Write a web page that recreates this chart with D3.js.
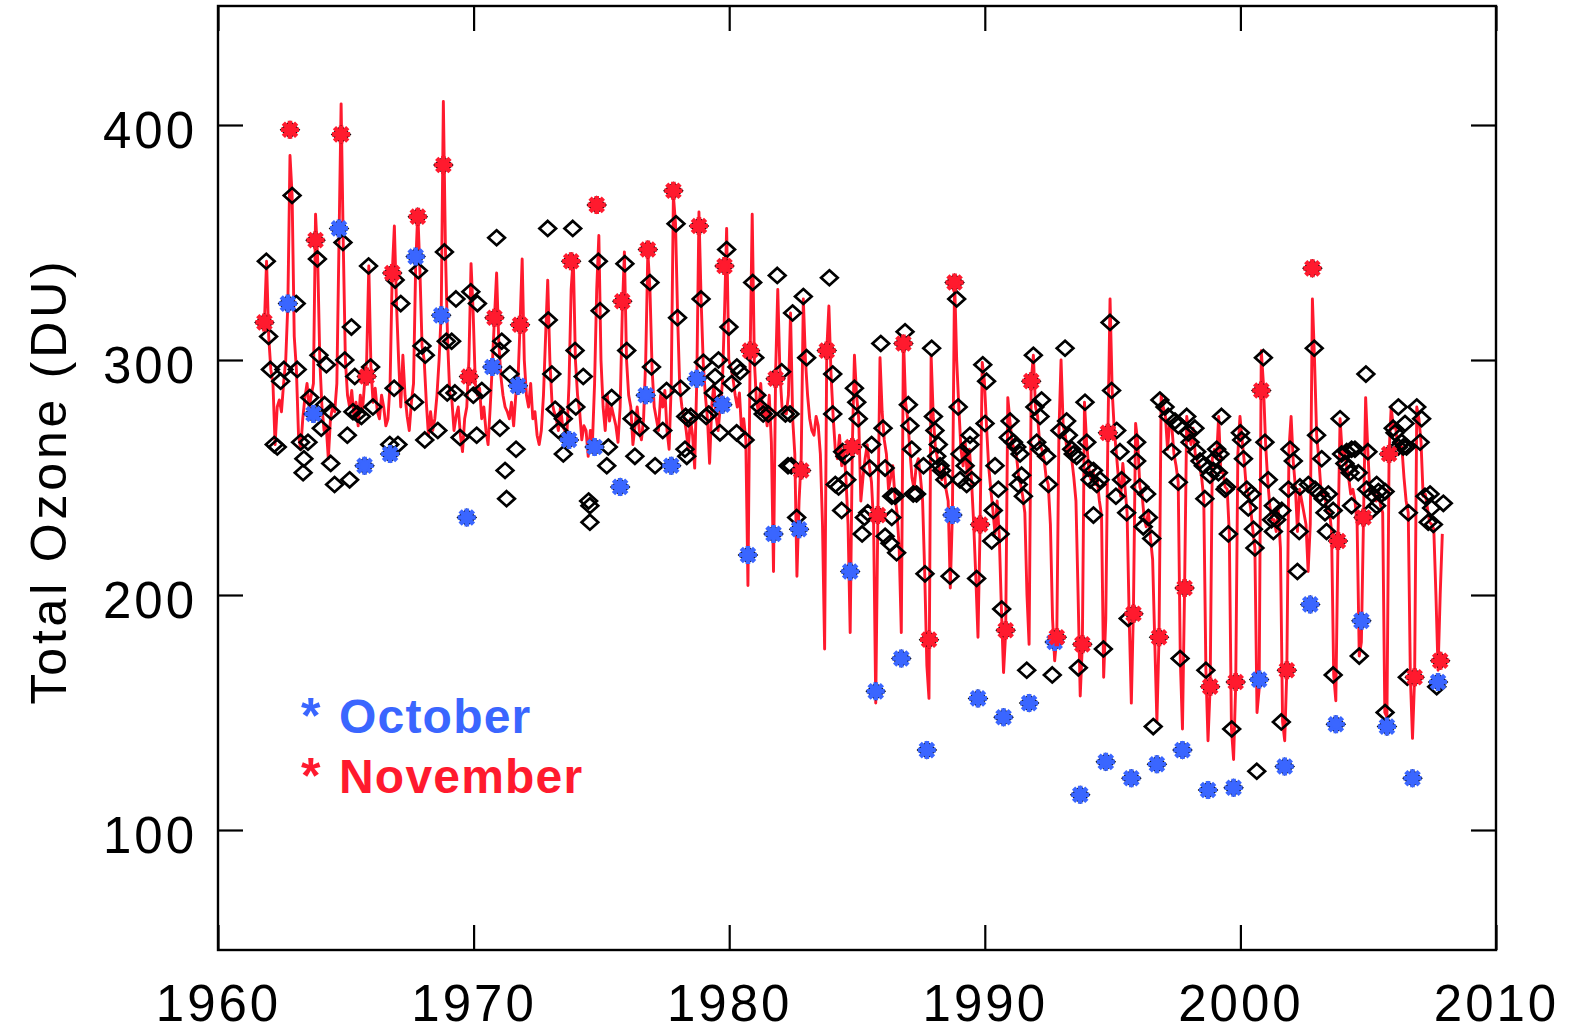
<!DOCTYPE html>
<html><head><meta charset="utf-8">
<script src="https://cdn.jsdelivr.net/npm/d3@7"></script>
<style>body{margin:0;background:#fff}svg{display:block}</style>
</head><body>
<svg id="c" width="1570" height="1032"></svg>
<script>
// ---------- data ----------
const xTicks = [1960, 1970, 1980, 1990, 2000, 2010];
const yTicks = [100, 200, 300, 400];
const yTitle = "Total Ozone (DU)";
const legendLabels = ["October", "November"];

// monthly line (Jan..Dec) per year
const lineYears = d3.range(1961, 2008);
const lineValues = [
[null,null,null,null,null,null,null,null,null,null,316,342],
[310,296,290,264,280,283,278,290,300,324,387,370],
[310,296,268,262,275,284,290,280,285,290,362,343],
[300,280,270,272,258,275,280,278,290,350,409,350],
[300,285,280,287,276,282,272,285,278,290,300,340],
[297,282,288,278,275,285,280,272,275,290,337,357],
[324,300,280,302,285,276,270,282,290,340,363,338],
[306,300,282,268,278,270,275,285,300,320,410,346],
[308,286,283,270,276,280,268,261,275,280,300,341],
[320,290,285,288,275,280,270,264,280,298,318,337],
[308,293,285,280,278,275,282,272,285,290,315,343],
[300,285,280,290,275,278,268,264,270,285,310,334],
[300,282,278,275,270,280,272,270,268,290,330,344],
[300,285,278,266,272,270,259,270,265,290,330,353],
[300,280,270,285,274,280,276,272,265,280,320,346],
[300,285,280,264,272,280,270,266,275,300,346,330],
[296,280,275,270,285,280,287,270,262,290,370,358],
[318,288,280,276,270,262,275,268,254,292,363,326],
[299,285,275,256,280,290,276,270,280,290,320,356],
[300,297,292,285,280,286,270,275,266,204,300,362],
[300,282,278,290,276,280,272,285,265,210,295,330],
[295,280,278,277,285,320,275,260,208,240,258,326],
[300,285,275,270,268,276,272,260,230,177,304,323],
[294,276,262,258,268,255,262,250,230,184,263,302],
[285,275,240,250,258,264,255,248,230,154,234,301],
[278,266,260,245,250,255,242,235,220,184,310,282],
[275,262,250,245,255,258,250,240,209,170,156,302],
[276,263,258,253,249,255,245,240,203,235,335,300],
[280,262,255,265,250,262,248,230,207,182,230,299],
[291,272,255,245,236,226,240,225,194,167,184,284],
[274,265,262,260,251,247,242,235,200,179,291,302],
[280,276,264,262,258,250,247,230,190,172,182,269],
[300,272,268,260,265,258,250,240,200,157,179,282],
[265,254,249,253,247,249,240,234,165,190,269,326],
[287,270,260,249,242,256,246,235,190,154,195,273],
[265,246,243,233,229,236,224,215,180,146,182,285],
[280,276,262,274,272,260,255,248,172,143,203,276],
[269,264,271,260,257,255,250,241,168,138,161,258],
[262,258,276,252,253,246,245,226,143,130,162,260],
[276,266,257,245,243,237,228,220,150,160,304,290],
[265,249,238,232,232,227,236,220,146,138,168,262],
[276,257,246,227,245,240,235,230,210,230,326,300],
[268,258,245,243,241,235,236,227,166,155,223,275],
[260,262,255,250,243,245,240,230,174,180,233,284],
[262,243,245,243,240,244,238,235,150,148,260,280],
[271,273,262,264,263,250,240,235,165,139,165,280],
[275,265,242,243,237,231,230,228,200,168,200,226]
];

// individual monthly values (diamonds): [decimal year, DU]
const diamonds = [
[1961.89,342],[1961.98,310],[1962.05,296],[1962.2,264],[1962.32,263],[1962.45,291],[1962.58,296],[1962.9,370],
[1963.06,324],[1963.1,296],[1963.23,265],[1963.36,258],[1963.33,252],[1963.52,265],[1963.59,284],[1963.89,343],
[1963.95,302],[1964.24,298],[1964.04,271],[1964.17,281],[1964.43,278],[1964.41,256],[1964.56,247],[1964.89,350],
[1964.96,300],[1965.22,314],[1965.15,249],[1965.06,268],[1965.35,293],[1965.28,278],[1965.61,276],[1965.45,277],
[1965.89,340],[1965.97,297],[1966.06,280],[1966.72,264],[1966.89,288],[1966.93,334],[1967.15,324],[1967.04,264],
[1967.69,282],[1967.84,338],[1967.98,306],[1968.11,302],[1968.09,266],[1968.6,270],[1968.86,346],[1968.93,308],
[1968.97,286],[1969.14,308],[1969.31,326],[1969.89,329],[1970.15,324],[1970.9,352],[1971.1,308],[1971.03,304],
[1969.27,286],[1969.47,267],[1969.99,285],[1970.12,268],[1970.32,287],[1971.03,271],[1971.42,294],[1971.66,262],
[1971.23,253],[1971.29,241],[1972.9,356],[1972.92,317],[1973.06,294],[1973.19,279],[1973.51,275],[1973.32,270],
[1973.51,260],[1973.88,356],[1973.97,304],[1974.0,280],[1974.29,293],[1974.88,342],[1974.95,321],[1975.27,263],
[1975.21,255],[1974.5,240],[1974.55,238],[1974.55,231],[1975.4,284],[1975.92,341],[1975.99,304],[1976.31,259],
[1976.2,275],[1976.5,271],[1976.9,333],[1976.96,297],[1977.1,255],[1977.4,270],[1977.55,287],[1977.92,358],
[1977.98,318],[1978.1,288],[1978.27,262],[1978.34,259],[1978.3,276],[1978.4,275],[1978.5,276],[1978.9,326],
[1978.99,299],[1979.58,300],[1979.45,293],[1979.38,286],[1979.2,277],[1979.1,276],[1979.64,269],[1980.29,269],
[1980.62,266],[1979.9,347],[1979.99,314],[1980.1,290],[1980.3,297],[1980.43,295],[1980.92,333],[1981.0,301],
[1981.08,285],[1981.2,280],[1981.33,277],[1981.53,277],[1981.88,336],[1982.05,295],[1982.2,277],[1982.38,277],
[1982.48,320],[1982.9,327],[1983.03,301],[1982.64,233],[1982.3,255],[1982.43,255],[1983.92,335],[1984.05,294],
[1984.05,277],[1984.44,261],[1984.53,259],[1984.6,249],[1984.4,236],[1984.28,246],[1984.15,247],[1984.9,288],
[1984.99,282],[1985.05,275],[1985.2,226],[1985.29,233],[1985.42,235],[1985.5,254],[1985.93,307],[1985.57,264],
[1986.02,271],[1986.1,254],[1986.36,233],[1986.36,242],[1986.49,242],[1986.1,225],[1986.29,222],[1986.55,218],
[1986.88,312],[1987.01,281],[1987.07,272],[1987.14,262],[1987.2,243],[1987.33,243],[1987.6,255],[1987.66,209],
[1987.92,305],[1987.99,276],[1988.05,270],[1988.18,264],[1988.12,259],[1988.25,255],[1988.31,253],[1988.44,249],
[1988.64,208],[1988.9,326],[1988.96,280],[1989.03,260],[1989.23,255],[1989.42,268],[1989.42,264],[1989.49,249],
[1989.29,247],[1989.03,249],[1989.68,207],[1989.92,298],[1990.07,291],[1990.01,273],[1990.4,255],[1990.53,245],
[1990.33,236],[1990.27,223],[1990.6,226],[1990.66,194],[1990.99,274],[1990.92,267],[1991.12,265],[1991.25,263],
[1991.38,260],[1991.44,251],[1991.51,242],[1991.31,247],[1991.64,168],[1991.9,302],[1991.96,280],[1992.22,283],
[1992.16,276],[1992.03,265],[1992.16,262],[1992.42,259],[1992.49,247],[1992.64,166],[1993.14,305],[1993.2,274],
[1992.94,270],[1993.46,260],[1993.27,268],[1993.59,259],[1993.4,262],[1993.66,169],[1993.92,282],[1993.99,265],
[1994.05,254],[1994.12,249],[1994.25,253],[1994.38,247],[1994.51,249],[1994.25,234],[1994.64,177],[1994.9,316],
[1994.96,287],[1995.16,270],[1995.29,261],[1995.35,249],[1995.13,242],[1995.55,235],[1995.94,257],[1995.94,265],
[1996.07,246],[1996.33,243],[1996.2,229],[1996.4,233],[1996.53,224],[1995.61,190],[1996.59,144],[1996.85,283],
[1997.05,280],[1997.18,276],[1997.44,274],[1997.57,272],[1997.31,261],[1997.57,248],[1997.9,276],[1997.96,269],
[1998.03,265],[1998.22,271],[1998.29,261],[1998.42,257],[1998.55,255],[1998.81,251],[1997.64,173],[1998.61,241],
[1998.65,168],[1999.26,276],[1999.07,262],[1999.2,260],[1999.0,258],[1999.14,252],[1998.94,253],[1999.46,246],
[1999.53,226],[1999.4,245],[1999.66,143],[2000.0,269],[2000.05,266],[2000.12,258],[2000.25,245],[2000.44,243],
[2000.31,237],[2000.57,220],[2000.51,228],[2000.64,125],[2000.9,301],[2000.96,265],[2001.09,249],[2001.29,238],
[2001.22,232],[2001.42,232],[2001.29,227],[2001.62,236],[2001.6,146],[2001.94,262],[2002.07,257],[2001.88,245],
[2002.23,210],[2002.3,227],[2002.33,246],[2002.89,305],[2002.98,268],[2003.18,258],[2002.66,247],[2002.92,245],
[2003.11,243],[2003.24,241],[2003.44,243],[2003.31,235],[2003.37,227],[2003.63,236],[2003.63,166],[2003.9,275],
[2003.96,260],[2004.16,261],[2004.35,262],[2004.48,262],[2004.09,256],[2004.22,254],[2004.29,252],[2004.61,252],
[2004.35,238],[2004.99,261],[2004.94,245],[2005.14,243],[2005.33,247],[2005.4,244],[2005.53,243],[2005.66,244],
[2005.14,236],[2005.33,238],[2004.91,294],[2004.65,174],[2005.66,150],[2006.18,280],[2005.98,271],[2006.05,269],
[2006.44,273],[2006.37,263],[2006.5,263],[2006.31,265],[2006.18,263],[2006.57,235],[2006.9,280],[2007.09,275],
[2007.03,265],[2007.22,242],[2007.42,243],[2007.35,231],[2007.55,230],[2007.94,239],[2007.48,237],[2007.68,161],
[2006.53,165]
];

const octYears  = [1962,1963,1964,1965,1966,1967,1968,1969,1970,1971,1973,1974,1975,1976,1977,1978,1979,1980,1981,1982,1984,1985,1986,1987,1988,1989,1990,1991,1992,1993,1994,1995,1996,1997,1998,1999,2000,2001,2002,2003,2004,2005,2006,2007];
const octValues = [324,277,356,255,260,344,319,233,297,289,266,263,246,285,255,292,281,217,226,228,210,159,173,134,234,156,148,154,180,115,129,122,128,134,117,118,164,127,196,145,189,144,122,163];
const novYears  = [1961,1962,1963,1964,1965,1966,1967,1968,1969,1970,1971,1973,1974,1975,1976,1977,1978,1979,1980,1981,1982,1983,1984,1985,1986,1987,1988,1989,1990,1991,1992,1993,1994,1995,1996,1997,1998,1999,2000,2001,2002,2003,2004,2005,2006,2007];
const novValues = [316,398,351,396,293,337,361,383,293,318,315,342,366,325,347,372,357,340,304,292,253,304,263,234,307,181,333,230,185,291,182,179,269,192,182,203,161,163,287,168,339,223,233,260,165,172];

// ---------- styles ----------
const BLUE = "#3a66ff", RED = "#ff1a2e";
const FONT = "'Liberation Sans', Arial, Helvetica, sans-serif";
const L = 218, R = 1496, T = 6, B = 950;
const monthTime = (yr, m) => yr + (m - 0.2) / 12;

const svg = d3.select("#c");
const x = d3.scaleLinear().domain([1960, 2010]).range([L, R]);
const y = d3.scaleLinear().domain([100, 400]).range([830, 125]);

svg.append("clipPath").attr("id","clip").append("rect").attr("x",L).attr("y",T).attr("width",R-L).attr("height",B-T);
const plot = svg.append("g").attr("clip-path","url(#clip)");

// line
const linePts = lineYears.flatMap((yr, i) => lineValues[i].map((v, m) => ({t: monthTime(yr, m), v})))
  .filter(d => d.v != null);
plot.append("path").datum(linePts)
  .attr("d", d3.line().x(d => x(d.t)).y(d => y(d.v)))
  .attr("fill","none").attr("stroke",RED).attr("stroke-width",2.9).attr("stroke-linejoin","round");

// diamonds (all months, including Oct/Nov under the asterisks)
const octPts = octYears.map((yr, i) => [monthTime(yr, 9), octValues[i]]);
const novPts = novYears.map((yr, i) => [monthTime(yr, 10), novValues[i]]);
const dia = "M0,-7.5L8.3,0L0,7.5L-8.3,0Z";
plot.selectAll("path.dia").data(diamonds.concat(octPts, novPts)).join("path").attr("class","dia")
  .attr("d", dia).attr("transform", d => `translate(${x(d[0])},${y(d[1])})`)
  .attr("fill","none").attr("stroke","#000").attr("stroke-width",2.7);

// asterisks
const r = 9, k = r * 0.74;
const star = `M${-r},0L${r},0M0,${-r}L0,${r}M${-k},${-k}L${k},${k}M${-k},${k}L${k},${-k}`;
function stars(data, color) {
  const g = plot.append("g");
  g.selectAll("path.s").data(data).join("path")
    .attr("d", star).attr("transform", d => `translate(${x(d[0])},${y(d[1])})`)
    .attr("stroke", color).attr("stroke-width", 4.6).attr("fill","none");
  g.selectAll("circle").data(data).join("circle")
    .attr("cx", d => x(d[0])).attr("cy", d => y(d[1])).attr("r", 4.5).attr("fill", color);
}
stars(octPts, BLUE);
stars(novPts, RED);

// axes
const axStyle = g => { g.select(".domain").remove(); g.selectAll(".tick line").attr("stroke","#000").attr("stroke-width",2.2);
  g.selectAll("text").attr("font-family",FONT).attr("font-size",51).attr("fill","#000").style("letter-spacing","3px"); };
svg.append("g").attr("transform",`translate(0,${B})`)
  .call(d3.axisBottom(x).tickValues(xTicks).tickSize(-25).tickPadding(35).tickFormat(d3.format("d"))).call(axStyle);
svg.append("g").attr("transform",`translate(0,${T})`)
  .call(d3.axisTop(x).tickValues(xTicks).tickSize(-25).tickFormat("")).call(axStyle);
svg.append("g").attr("transform",`translate(${L},0)`)
  .call(d3.axisLeft(y).tickValues(yTicks).tickSize(-25).tickPadding(21)).call(axStyle)
  .selectAll("text").attr("dy","22px");
svg.append("g").attr("transform",`translate(${R},0)`)
  .call(d3.axisRight(y).tickValues(yTicks).tickSize(-25).tickFormat("")).call(axStyle);

// frame
svg.append("rect").attr("x",L).attr("y",T).attr("width",R-L).attr("height",B-T)
  .attr("fill","none").attr("stroke","#000").attr("stroke-width",2.4);

// y title
svg.append("text").attr("transform","translate(66,481) rotate(-90)")
  .attr("text-anchor","middle").attr("font-family",FONT).attr("font-size",50)
  .style("letter-spacing","3.8px").attr("fill","#000").text(yTitle);

// legend
const leg = [{t: legendLabels[0], c: BLUE, yb: 733}, {t: legendLabels[1], c: RED, yb: 793}];
leg.forEach(d => {
  svg.append("text").attr("x",301).attr("y",d.yb).attr("font-family",FONT).attr("font-weight","bold")
    .attr("font-size",50).attr("fill",d.c).text("*");
  svg.append("text").attr("x",339).attr("y",d.yb).attr("font-family",FONT).attr("font-weight","bold")
    .attr("font-size",48).style("letter-spacing","1.2px").attr("fill",d.c).text(d.t);
});
</script>
</body></html>
